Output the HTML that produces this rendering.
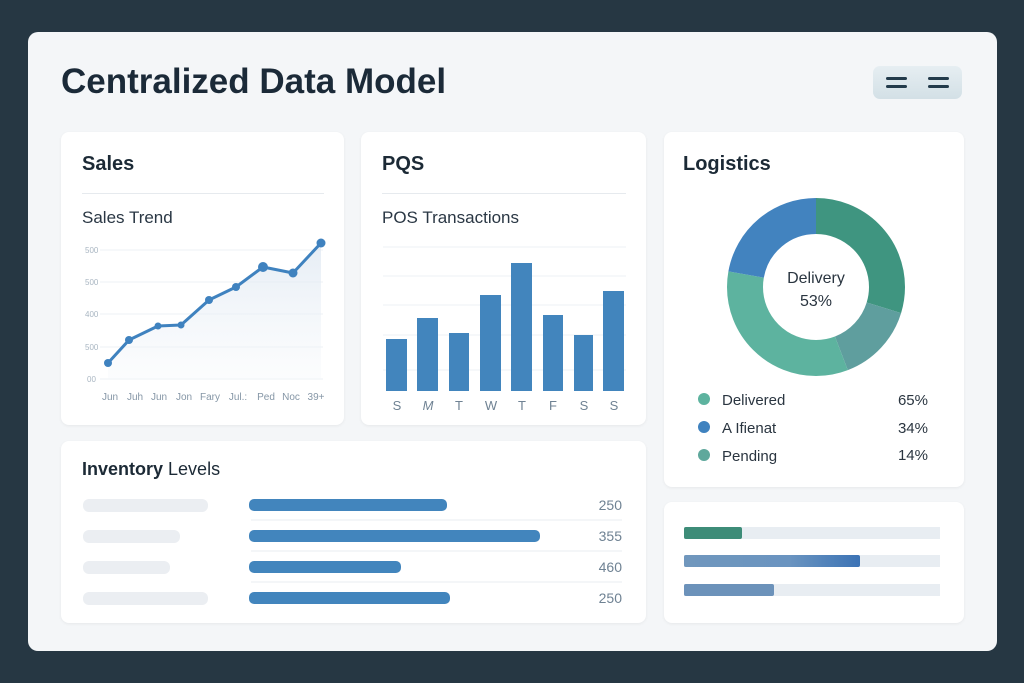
<!DOCTYPE html>
<html><head><meta charset="utf-8"><style>
*{margin:0;padding:0;box-sizing:border-box}
body{width:1024px;height:683px;background:#263743;font-family:"Liberation Sans",sans-serif;position:relative;overflow:hidden}
.panel{position:absolute;left:28px;top:32px;width:969px;height:619px;background:#f4f6f8;border-radius:10px}
.card{position:absolute;background:#fff;border-radius:8px;box-shadow:0 1px 3px rgba(0,0,0,0.06)}
.t{position:absolute;color:#1c2a36}
svg text{font-family:"Liberation Sans",sans-serif}
</style></head><body>
<div class="panel"></div>
<div class="t" style="left:61px;top:62px;font-size:35px;font-weight:bold;color:#1b2a38">Centralized Data Model</div>
<div style="position:absolute;left:873px;top:66px;width:89px;height:33px;border-radius:7px;background:linear-gradient(#e6eef2,#d3e0e6)"></div>
<div style="position:absolute;left:886px;top:77px;width:21px;height:3px;background:#233b4b;border-radius:2px"></div>
<div style="position:absolute;left:886px;top:85px;width:21px;height:3px;background:#233b4b;border-radius:2px"></div>
<div style="position:absolute;left:928px;top:77px;width:21px;height:3px;background:#233b4b;border-radius:2px"></div>
<div style="position:absolute;left:928px;top:85px;width:21px;height:3px;background:#233b4b;border-radius:2px"></div>

<div class="card" style="left:61px;top:132px;width:283px;height:293px"></div>
<div class="card" style="left:361px;top:132px;width:285px;height:293px"></div>
<div class="card" style="left:664px;top:132px;width:300px;height:355px"></div>
<div class="card" style="left:61px;top:441px;width:585px;height:182px"></div>
<div class="card" style="left:664px;top:502px;width:300px;height:121px"></div>

<div class="t" style="left:82px;top:153px;font-size:20px;font-weight:bold">Sales</div>
<div style="position:absolute;left:82px;top:193px;width:242px;height:1px;background:#e6eaee"></div>
<div class="t" style="left:82px;top:208px;font-size:17px;color:#2a3744">Sales Trend</div>
<div class="t" style="left:382px;top:153px;font-size:20px;font-weight:bold">PQS</div>
<div style="position:absolute;left:382px;top:193px;width:244px;height:1px;background:#e6eaee"></div>
<div class="t" style="left:382px;top:208px;font-size:17px;color:#2a3744">POS Transactions</div>
<div class="t" style="left:683px;top:153px;font-size:20px;font-weight:bold">Logistics</div>
<div class="t" style="left:82px;top:459px;font-size:18px"><b>Inventory</b> Levels</div>

<svg width="1024" height="683" style="position:absolute;left:0;top:0">
<defs><linearGradient id="ar" x1="0" y1="0" x2="0" y2="1"><stop offset="0" stop-color="#dfe8f2" stop-opacity=".8"/><stop offset="1" stop-color="#f3f6fa" stop-opacity=".3"/></linearGradient>
<linearGradient id="bg2" x1="0" x2="1"><stop offset="0" stop-color="#7097bd"/><stop offset=".6" stop-color="#6a94c0"/><stop offset="1" stop-color="#3c73b5"/></linearGradient></defs>
<g stroke="#edf1f5" stroke-width="1">
<line x1="100" y1="250" x2="323" y2="250"/><line x1="100" y1="282" x2="323" y2="282"/><line x1="100" y1="314" x2="323" y2="314"/><line x1="100" y1="347" x2="323" y2="347"/><line x1="100" y1="379" x2="323" y2="379"/>
</g>
<g font-size="8" fill="#a9b6c2" text-anchor="start">
<text x="85" y="253">500</text><text x="85" y="285">500</text><text x="85" y="317">400</text><text x="85" y="350">500</text><text x="87" y="382">00</text></g>
<polygon points="108,363 129,340 158,326 181,325 209,300 236,287 263,267 293,273 321,243 321,379 108,379" fill="url(#ar)"/>
<polyline points="108,363 129,340 158,326 181,325 209,300 236,287 263,267 293,273 321,243" fill="none" stroke="#3f82bf" stroke-width="3" stroke-linejoin="round"/>
<g fill="#3f82bf"><circle cx="108" cy="363" r="4"/><circle cx="129" cy="340" r="4"/><circle cx="158" cy="326" r="3.5"/><circle cx="181" cy="325" r="3.5"/><circle cx="209" cy="300" r="4"/><circle cx="236" cy="287" r="4"/><circle cx="263" cy="267" r="5"/><circle cx="293" cy="273" r="4.5"/><circle cx="321" cy="243" r="4.5"/></g>
<g font-size="10" fill="#8596a6" text-anchor="middle">
<text x="110" y="400">Jun</text><text x="135" y="400">Juh</text><text x="159" y="400">Jun</text><text x="184" y="400">Jon</text><text x="210" y="400">Fary</text><text x="238" y="400">Jul.:</text><text x="266" y="400">Ped</text><text x="291" y="400">Noc</text><text x="316" y="400">39+</text></g>

<g stroke="#eef2f5"><line x1="383" y1="247" x2="626" y2="247"/><line x1="383" y1="276" x2="626" y2="276"/><line x1="383" y1="305" x2="626" y2="305"/><line x1="383" y1="335" x2="626" y2="335"/><line x1="383" y1="370" x2="626" y2="370"/></g>
<g fill="#4285bd">
<rect x="386" y="339" width="21" height="52"/><rect x="417" y="318" width="21" height="73"/><rect x="449" y="333" width="20" height="58"/><rect x="480" y="295" width="21" height="96"/><rect x="511" y="263" width="21" height="128"/><rect x="543" y="315" width="20" height="76"/><rect x="574" y="335" width="19" height="56"/><rect x="603" y="291" width="21" height="100"/></g>
<g font-size="13" fill="#6f8293" text-anchor="middle">
<text x="397" y="410">S</text><text x="428" y="410" font-style="italic">M</text><text x="459" y="410">T</text><text x="491" y="410">W</text><text x="522" y="410">T</text><text x="553" y="410">F</text><text x="584" y="410">S</text><text x="614" y="410">S</text></g>

<g fill="none" stroke-width="36" transform="rotate(-90 816 287)">
<circle cx="816" cy="287" r="71" stroke="#3f9580" stroke-dasharray="132.6 500"/>
<circle cx="816" cy="287" r="71" stroke="#5f9e9e" stroke-dasharray="64.4 500" stroke-dashoffset="-132.6"/>
<circle cx="816" cy="287" r="71" stroke="#5db39f" stroke-dasharray="150 500" stroke-dashoffset="-197"/>
<circle cx="816" cy="287" r="71" stroke="#4283bf" stroke-dasharray="99.1 500" stroke-dashoffset="-347"/>
</g>
<text x="816" y="283" font-size="16" fill="#2a3540" text-anchor="middle">Delivery</text>
<text x="816" y="306" font-size="16" fill="#2a3540" text-anchor="middle">53%</text>
<circle cx="704" cy="399" r="6" fill="#5db39f"/><circle cx="704" cy="427" r="6" fill="#3f82bf"/><circle cx="704" cy="455" r="6" fill="#5fa89c"/>
<g font-size="15" fill="#2a3540"><text x="722" y="405">Delivered</text><text x="722" y="433">A Ifienat</text><text x="722" y="461">Pending</text>
<text x="928" y="405" text-anchor="end">65%</text><text x="928" y="433" text-anchor="end">34%</text><text x="928" y="460" text-anchor="end">14%</text></g>

<g fill="#ebeef2"><rect x="83" y="499" width="125" height="13" rx="6"/><rect x="83" y="530" width="97" height="13" rx="6"/><rect x="83" y="561" width="87" height="13" rx="6"/><rect x="83" y="592" width="125" height="13" rx="6"/></g>
<g fill="#4285bd"><rect x="249" y="499" width="198" height="12" rx="5"/><rect x="249" y="530" width="291" height="12" rx="5"/><rect x="249" y="561" width="152" height="12" rx="5"/><rect x="249" y="592" width="201" height="12" rx="5"/></g>
<g stroke="#e8edf2"><line x1="251" y1="520" x2="622" y2="520"/><line x1="251" y1="551" x2="622" y2="551"/><line x1="251" y1="582" x2="622" y2="582"/></g>
<g font-size="14" fill="#6f8293" text-anchor="end"><text x="622" y="510">250</text><text x="622" y="541">355</text><text x="622" y="572">460</text><text x="622" y="603">250</text></g>

<g fill="#e8edf2"><rect x="684" y="527" width="256" height="12"/><rect x="684" y="555" width="256" height="12"/><rect x="684" y="584" width="256" height="12"/></g>
<rect x="684" y="527" width="58" height="12" rx="2" fill="#3d8c78"/>
<rect x="684" y="555" width="176" height="12" rx="2" fill="url(#bg2)"/>
<rect x="684" y="584" width="90" height="12" rx="2" fill="#6c92ba"/>
</svg>
</body></html>
